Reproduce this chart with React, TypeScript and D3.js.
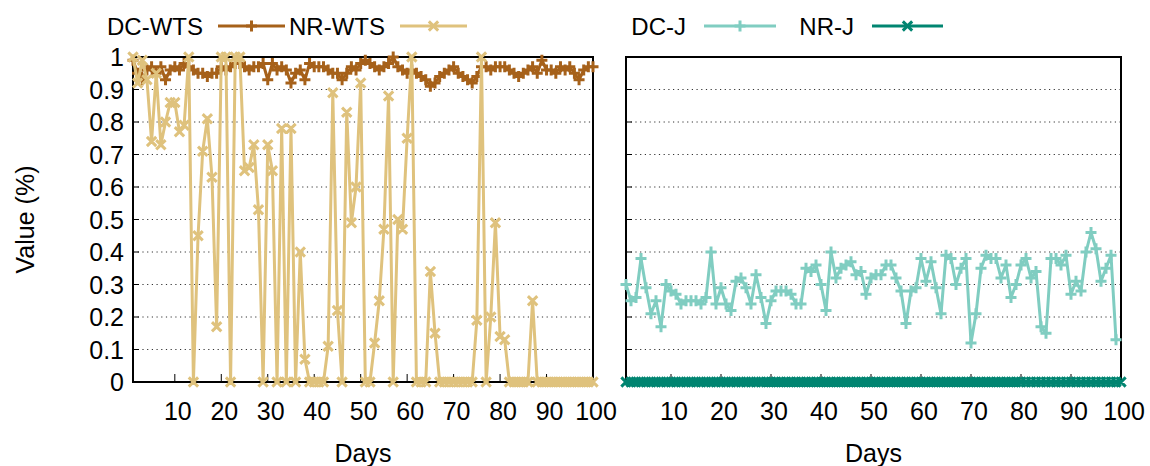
import React from "react";
import * as d3 from "d3";

// ---------- data ----------
const yTicks = [0, 0.1, 0.2, 0.3, 0.4, 0.5, 0.6, 0.7, 0.8, 0.9, 1];
const yTickLabels = ["0", "0.1", "0.2", "0.3", "0.4", "0.5", "0.6", "0.7", "0.8", "0.9", "1"];
const xTicks = [10, 20, 30, 40, 50, 60, 70, 80, 90, 100];

const dcWts = [
  0.99, 0.95, 0.93, 0.96, 0.97, 0.95, 0.97, 0.93, 0.96, 0.97,
  0.96, 0.98, 0.97, 0.96, 0.95, 0.95, 0.94, 0.95, 0.95, 0.97,
  0.96, 0.97, 0.98, 0.98, 0.97, 0.96, 0.97, 0.97, 0.98, 0.93,
  0.98, 0.96, 0.97, 0.96, 0.92, 0.95, 0.96, 0.93, 0.98, 0.97,
  0.97, 0.97, 0.96, 0.95, 0.95, 0.93, 0.95, 0.97, 0.96, 0.98,
  0.99, 0.98, 0.97, 0.96, 0.97, 0.98, 1.0, 0.97, 0.96, 0.95,
  0.96, 0.95, 0.94, 0.93, 0.91, 0.92, 0.94, 0.95, 0.96, 0.97,
  0.95, 0.94, 0.93, 0.92, 0.94, 0.97, 0.97, 0.96, 0.97, 0.97,
  0.97, 0.96, 0.95, 0.94, 0.95, 0.96, 0.97, 0.95, 0.99, 0.96,
  0.96, 0.95, 0.97, 0.96, 0.97, 0.95, 0.93, 0.96, 0.97, 0.97,
];

const nrWts = [
  1.0, 0.92, 0.99, 0.93, 0.74, 0.95, 0.73, 0.8, 0.86, 0.86,
  0.77, 0.79, 1.0, 0, 0.45, 0.71, 0.81, 0.63, 0.17, 1.0,
  1.0, 0, 1.0, 1.0, 0.65, 0.66, 0.73, 0.53, 0, 0.73,
  0.65, 0, 0.78, 0, 0.78, 0, 0.4, 0.07, 0, 0,
  0, 0, 0.11, 0.89, 0.22, 0, 0.83, 0.49, 0.6, 0.92,
  0, 0, 0.12, 0.25, 0.47, 0.88, 0, 0.5, 0.47, 0.75,
  1.0, 0, 0, 0, 0.34, 0.15, 0, 0, 0, 0,
  0, 0, 0, 0, 0.19, 1.0, 0, 0.2, 0.49, 0.14,
  0.13, 0, 0, 0, 0, 0, 0.25, 0, 0, 0,
  0, 0, 0, 0, 0, 0, 0, 0, 0, 0,
];

const dcJ = [
  0.3, 0.25, 0.26, 0.38, 0.29, 0.21, 0.25, 0.17, 0.3, 0.28,
  0.27, 0.24, 0.25, 0.25, 0.25, 0.24, 0.26, 0.4, 0.24, 0.29,
  0.24, 0.22, 0.31, 0.32, 0.29, 0.24, 0.33, 0.26, 0.18, 0.25,
  0.28, 0.28, 0.28, 0.27, 0.24, 0.24, 0.35, 0.34, 0.36, 0.3,
  0.22, 0.4, 0.32, 0.35, 0.36, 0.37, 0.33, 0.34, 0.27, 0.32,
  0.33, 0.33, 0.36, 0.36, 0.32, 0.28, 0.18, 0.28, 0.29, 0.38,
  0.31, 0.37, 0.29, 0.21, 0.39, 0.38, 0.3, 0.35, 0.38, 0.12,
  0.21, 0.35, 0.39, 0.38, 0.38, 0.32, 0.36, 0.26, 0.3, 0.36,
  0.38, 0.32, 0.34, 0.17, 0.15, 0.38, 0.38, 0.36, 0.39, 0.27,
  0.31, 0.28, 0.4, 0.46, 0.41, 0.31, 0.35, 0.39, 0.13,
];

const nrJ = [
  0, 0, 0, 0, 0, 0, 0, 0, 0, 0,
  0, 0, 0, 0, 0, 0, 0, 0, 0, 0,
  0, 0, 0, 0, 0, 0, 0, 0, 0, 0,
  0, 0, 0, 0, 0, 0, 0, 0, 0, 0,
  0, 0, 0, 0, 0, 0, 0, 0, 0, 0,
  0, 0, 0, 0, 0, 0, 0, 0, 0, 0,
  0, 0, 0, 0, 0, 0, 0, 0, 0, 0,
  0, 0, 0, 0, 0, 0, 0, 0, 0, 0,
  0, 0, 0, 0, 0, 0, 0, 0, 0, 0,
  0, 0, 0, 0, 0, 0, 0, 0, 0, 0,
];

// ---------- styles ----------
const FONT = "'Liberation Sans', Arial, Helvetica, sans-serif";
const FS = 25;
const FS_LEG = 24;
const C_DCWTS = "#a6611a";
const C_NRWTS = "#dfc27d";
const C_DCJ = "#80cdc1";
const C_NRJ = "#018571";

const W = 1150;
const H = 466;
const TOP = 57;
const BOTTOM = 382;
const L1 = 133, R1 = 593;
const L2 = 626, R2 = 1121;

const y = d3.scaleLinear().domain([0, 1]).range([BOTTOM, TOP]);
const xLeft = d3.scaleLinear().domain([1, 100]).range([L1, R1]);
const xRight = d3.scaleLinear().domain([1, 100]).range([L2, R2]);

const M = 5.5;
function plusPath(cx: number, cy: number) {
  return `M${cx - M},${cy}H${cx + M}M${cx},${cy - M}V${cy + M}`;
}
function crossPath(cx: number, cy: number) {
  const m = M * 0.85;
  return `M${cx - m},${cy - m}L${cx + m},${cy + m}M${cx - m},${cy + m}L${cx + m},${cy - m}`;
}

type Series = { values: number[]; color: string; marker: "plus" | "cross" };

function SeriesMarks({ s, x }: { s: Series; x: d3.ScaleLinear<number, number> }) {
  const line = d3
    .line<number>()
    .x((_, i) => x(i + 1))
    .y((v) => y(v));
  const mk = s.marker === "plus" ? plusPath : crossPath;
  const markers = s.values.map((v, i) => mk(x(i + 1), y(v))).join("");
  return (
    <g>
      <path d={line(s.values) || ""} fill="none" stroke={s.color} strokeWidth={3} strokeLinejoin="round" />
      <path d={markers} fill="none" stroke={s.color} strokeWidth={3} />
    </g>
  );
}

function Panel({
  x,
  left,
  right,
  series,
  showYLabels,
}: {
  x: d3.ScaleLinear<number, number>;
  left: number;
  right: number;
  series: Series[];
  showYLabels: boolean;
}) {
  return (
    <g>
      {yTicks.slice(1, -1).map((t) => (
        <line
          key={"g" + t}
          x1={left}
          x2={right}
          y1={y(t)}
          y2={y(t)}
          stroke="#333"
          strokeWidth={1}
          strokeDasharray="1.2,3.5"
        />
      ))}
      {yTicks.map((t) => (
        <line key={"yt" + t} x1={left} x2={left + 6} y1={y(t)} y2={y(t)} stroke="#000" strokeWidth={1} />
      ))}
      {xTicks.map((t) => (
        <line key={"xt" + t} x1={x(t)} x2={x(t)} y1={BOTTOM} y2={BOTTOM - 8} stroke="#000" strokeWidth={1} />
      ))}
      <rect x={left} y={TOP} width={right - left} height={BOTTOM - TOP} fill="none" stroke="#000" strokeWidth={2} />
      {series.map((s, i) => (
        <SeriesMarks key={i} s={s} x={x} />
      ))}
      {xTicks.map((t) => (
        <text
          key={"xl" + t}
          x={x(t) + 3}
          y={420}
          textAnchor="middle"
          fontFamily={FONT}
          fontSize={FS}
          fill="#000"
        >
          {t}
        </text>
      ))}
      {showYLabels &&
        yTicks.map((t, i) => (
          <text
            key={"yl" + t}
            x={left - 9}
            y={y(t) + 9}
            textAnchor="end"
            fontFamily={FONT}
            fontSize={FS}
            fill="#000"
          >
            {yTickLabels[i]}
          </text>
        ))}
      <text x={(left + right) / 2} y={462} textAnchor="middle" fontFamily={FONT} fontSize={FS} fill="#000">
        Days
      </text>
    </g>
  );
}

function LegendItem({
  label,
  textRight,
  lineX1,
  lineX2,
  color,
  marker,
}: {
  label: string;
  textRight: number;
  lineX1: number;
  lineX2: number;
  color: string;
  marker: "plus" | "cross";
}) {
  const cy = 26;
  const cx = (lineX1 + lineX2) / 2;
  return (
    <g>
      <text x={textRight} y={cy + 9} textAnchor="end" fontFamily={FONT} fontSize={FS_LEG} fill="#000">
        {label}
      </text>
      <line x1={lineX1} x2={lineX2} y1={cy} y2={cy} stroke={color} strokeWidth={3} />
      <path d={marker === "plus" ? plusPath(cx, cy) : crossPath(cx, cy)} stroke={color} strokeWidth={3} fill="none" />
    </g>
  );
}

export default function App() {
  const leftSeries: Series[] = [
    { values: dcWts, color: C_DCWTS, marker: "plus" },
    { values: nrWts, color: C_NRWTS, marker: "cross" },
  ];
  const rightSeries: Series[] = [
    { values: dcJ, color: C_DCJ, marker: "plus" },
    { values: nrJ, color: C_NRJ, marker: "cross" },
  ];
  return (
    <svg
      width={W}
      height={H}
      style={{ position: "absolute", left: 0, top: 0, background: "#fff" }}
      xmlns="http://www.w3.org/2000/svg"
    >
      <rect width={W} height={H} fill="#fff" />
      <Panel x={xLeft} left={L1} right={R1} series={leftSeries} showYLabels={true} />
      <Panel x={xRight} left={L2} right={R2} series={rightSeries} showYLabels={false} />
      <text
        transform={`translate(34,${(TOP + BOTTOM) / 2}) rotate(-90)`}
        textAnchor="middle"
        fontFamily={FONT}
        fontSize={FS}
        fill="#000"
      >
        Value (%)
      </text>
      <LegendItem label="DC-WTS" textRight={203} lineX1={218} lineX2={285} color={C_DCWTS} marker="plus" />
      <LegendItem label="NR-WTS" textRight={385} lineX1={400} lineX2={467} color={C_NRWTS} marker="cross" />
      <LegendItem label="DC-J" textRight={686} lineX1={704} lineX2={776} color={C_DCJ} marker="plus" />
      <LegendItem label="NR-J" textRight={854} lineX1={872} lineX2={943} color={C_NRJ} marker="cross" />
    </svg>
  );
}
